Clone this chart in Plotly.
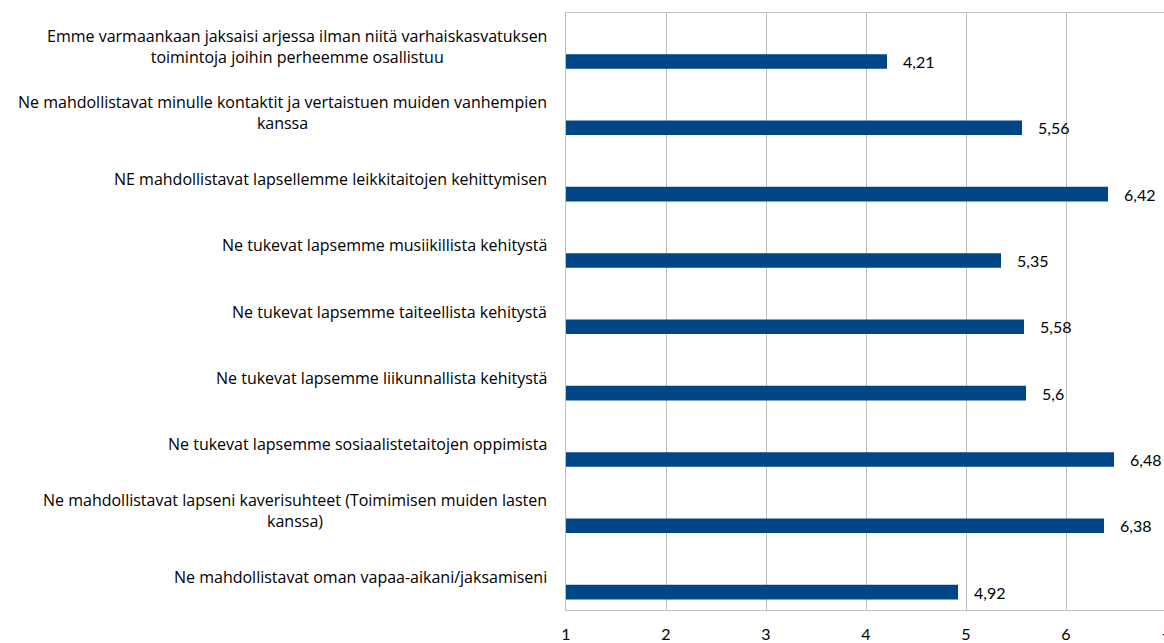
import plotly.graph_objects as go

categories = [
    "Emme varmaankaan jaksaisi arjessa ilman niitä varhaiskasvatuksen<br>toimintoja joihin perheemme osallistuu",
    "Ne mahdollistavat minulle kontaktit ja vertaistuen muiden vanhempien<br>kanssa",
    "NE mahdollistavat lapsellemme leikkitaitojen kehittymisen",
    "Ne tukevat lapsemme musiikillista kehitystä",
    "Ne tukevat lapsemme taiteellista kehitystä",
    "Ne tukevat lapsemme liikunnallista kehitystä",
    "Ne tukevat lapsemme sosiaalistetaitojen oppimista",
    "Ne mahdollistavat lapseni kaverisuhteet (Toimimisen muiden lasten<br>kanssa)",
    "Ne mahdollistavat oman vapaa-aikani/jaksamiseni",
]
values = [4.21, 5.56, 6.42, 5.35, 5.58, 5.6, 6.48, 6.38, 4.92]
x_ticks = [1, 2, 3, 4, 5, 6]

FONT = "Open Sans"
VFONT = "Lato"
W, H = 1164, 643
ML, MR, MT, MB = 566, 0, 13, 31
slot_px = (H - MT - MB) / len(categories)
bar_offset = 0.12
bar_width = 0.22

fig = go.Figure()
fig.add_trace(go.Bar(
    x=[v - 1 for v in values],
    base=1,
    y=categories,
    orientation="h",
    marker=dict(color="#004586", line=dict(width=0)),
    offset=bar_offset,
    width=bar_width,
    hoverinfo="skip",
))

annotations = []
for c, v in zip(categories, values):
    annotations.append(dict(
        x=v, y=c, xref="x", yref="y",
        text=f"{v:g}".replace(".", ","),
        showarrow=False, xanchor="left", yanchor="middle",
        xshift=14, yshift=-(bar_offset + bar_width / 2) * slot_px,
        font=dict(family=VFONT, size=16, color="black"),
    ))
    annotations.append(dict(
        x=0, y=c, xref="paper", yref="y",
        text=c, showarrow=False, xanchor="right", yanchor="middle",
        align="center", xshift=-17,
        font=dict(family=FONT, size=16, color="black"),
    ))
annotations.append(dict(
    x=1, y=0, xref="paper", yref="paper", text="7", showarrow=False,
    xanchor="center", yanchor="top", xshift=2, yshift=-17,
    font=dict(family=VFONT, size=16, color="black"),
))

fig.update_layout(
    width=W, height=H,
    margin=dict(l=ML, r=MR, t=MT, b=MB, pad=0),
    plot_bgcolor="white", paper_bgcolor="white",
    showlegend=False,
    annotations=annotations,
    font=dict(family=FONT, size=16, color="black"),
)
fig.update_xaxes(
    range=[1, 1 + (W - ML - MR) / 100.0],
    tickvals=x_ticks, ticktext=[str(t) for t in x_ticks],
    showgrid=True, gridcolor="#c0c0c0", gridwidth=1,
    showline=True, linecolor="#c0c0c0", linewidth=1, mirror=True,
    ticks="", ticklen=0, zeroline=False, ticklabelstandoff=10,
    tickfont=dict(family=VFONT, size=16, color="black"),
)
fig.update_yaxes(
    categoryorder="array", categoryarray=categories,
    autorange=False, range=[len(categories) - 0.5, -0.5],
    showticklabels=False, showgrid=False,
    showline=True, linecolor="#c0c0c0", linewidth=1, mirror=False,
    ticks="", zeroline=False,
)

fig.write_html(
    "out.html",
    config={"displayModeBar": False},
    post_script="document.body.style.margin='0';document.body.style.overflow='hidden';",
)
